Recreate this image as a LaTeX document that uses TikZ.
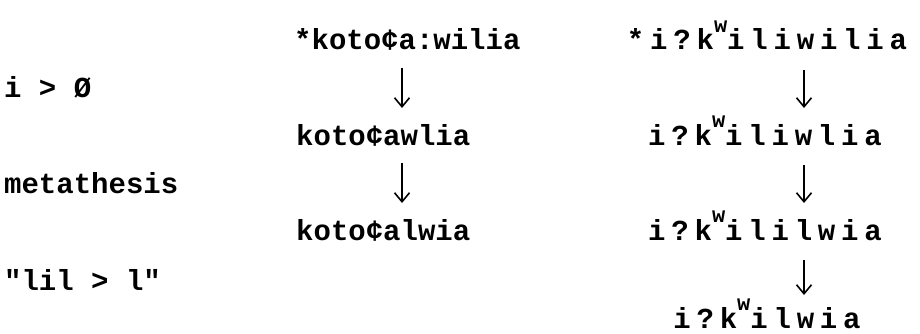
\documentclass[tikz,border=0pt]{standalone}
\usepackage{fontspec}
\setmainfont{Liberation Mono}[Ligatures=TeXOff]
\usetikzlibrary{arrows.meta}
\newcommand{\supw}{\raisebox{0.6em}{\fontsize{22}{22}\selectfont w}}
\begin{document}
\begin{tikzpicture}[x=1pt,y=1pt,
  word/.style={inner sep=0pt, font=\fontsize{29}{30}\selectfont\bfseries},
  wide/.style={inner sep=0pt, font=\fontsize{29}{30}\selectfont\bfseries\addfontfeature{LetterSpace=20}},
  lab/.style={inner sep=0pt, anchor=base west, font=\fontsize{29}{30}\selectfont\bfseries},
  arr/.style={line width=1.8pt, -{Straight Barb[length=9pt,width=15pt,line width=1.6pt]}}]
\useasboundingbox (0,0) rectangle (920,-334);
% left labels
\node[lab] (l1) at (4,-98) {i > Ø};
\node[lab] (l2) at (4,-193) {metathesis};
\node[lab] (l3) at (4,-290) {"lil > l"};
% middle column
\coordinate (ax) at (402,0);
\node[word, anchor=base west] (m1) at (294,-50) {*koto¢a:wilia};
\node[word, anchor=base west] (m2) at (296,-145) {koto¢awlia};
\node[word, anchor=base west] (m3) at (296,-240) {koto¢alwia};
\draw[arr] ([yshift=-18pt]m1.base -| ax) -- ([yshift=37pt]m2.base -| ax);
\draw[arr] ([yshift=-18pt]m2.base -| ax) -- ([yshift=37pt]m3.base -| ax);
% right column
\coordinate (bx) at (804,0);
\node[wide, anchor=base] (r1) at (767,-50) {*i?k\supw iliwilia};
\node[wide, anchor=base] (r2) at (765,-145) {i?k\supw iliwlia};
\node[wide, anchor=base] (r3) at (765,-240) {i?k\supw ililwia};
\node[wide, anchor=base] (r4) at (767,-328) {i?k\supw ilwia};
\draw[arr] ([yshift=-20pt]r1.base -| bx) -- ([yshift=37pt]r2.base -| bx);
\draw[arr] ([yshift=-20pt]r2.base -| bx) -- ([yshift=37pt]r3.base -| bx);
\draw[arr] ([yshift=-20pt]r3.base -| bx) -- ([yshift=33pt]r4.base -| bx);
\end{tikzpicture}
\end{document}
